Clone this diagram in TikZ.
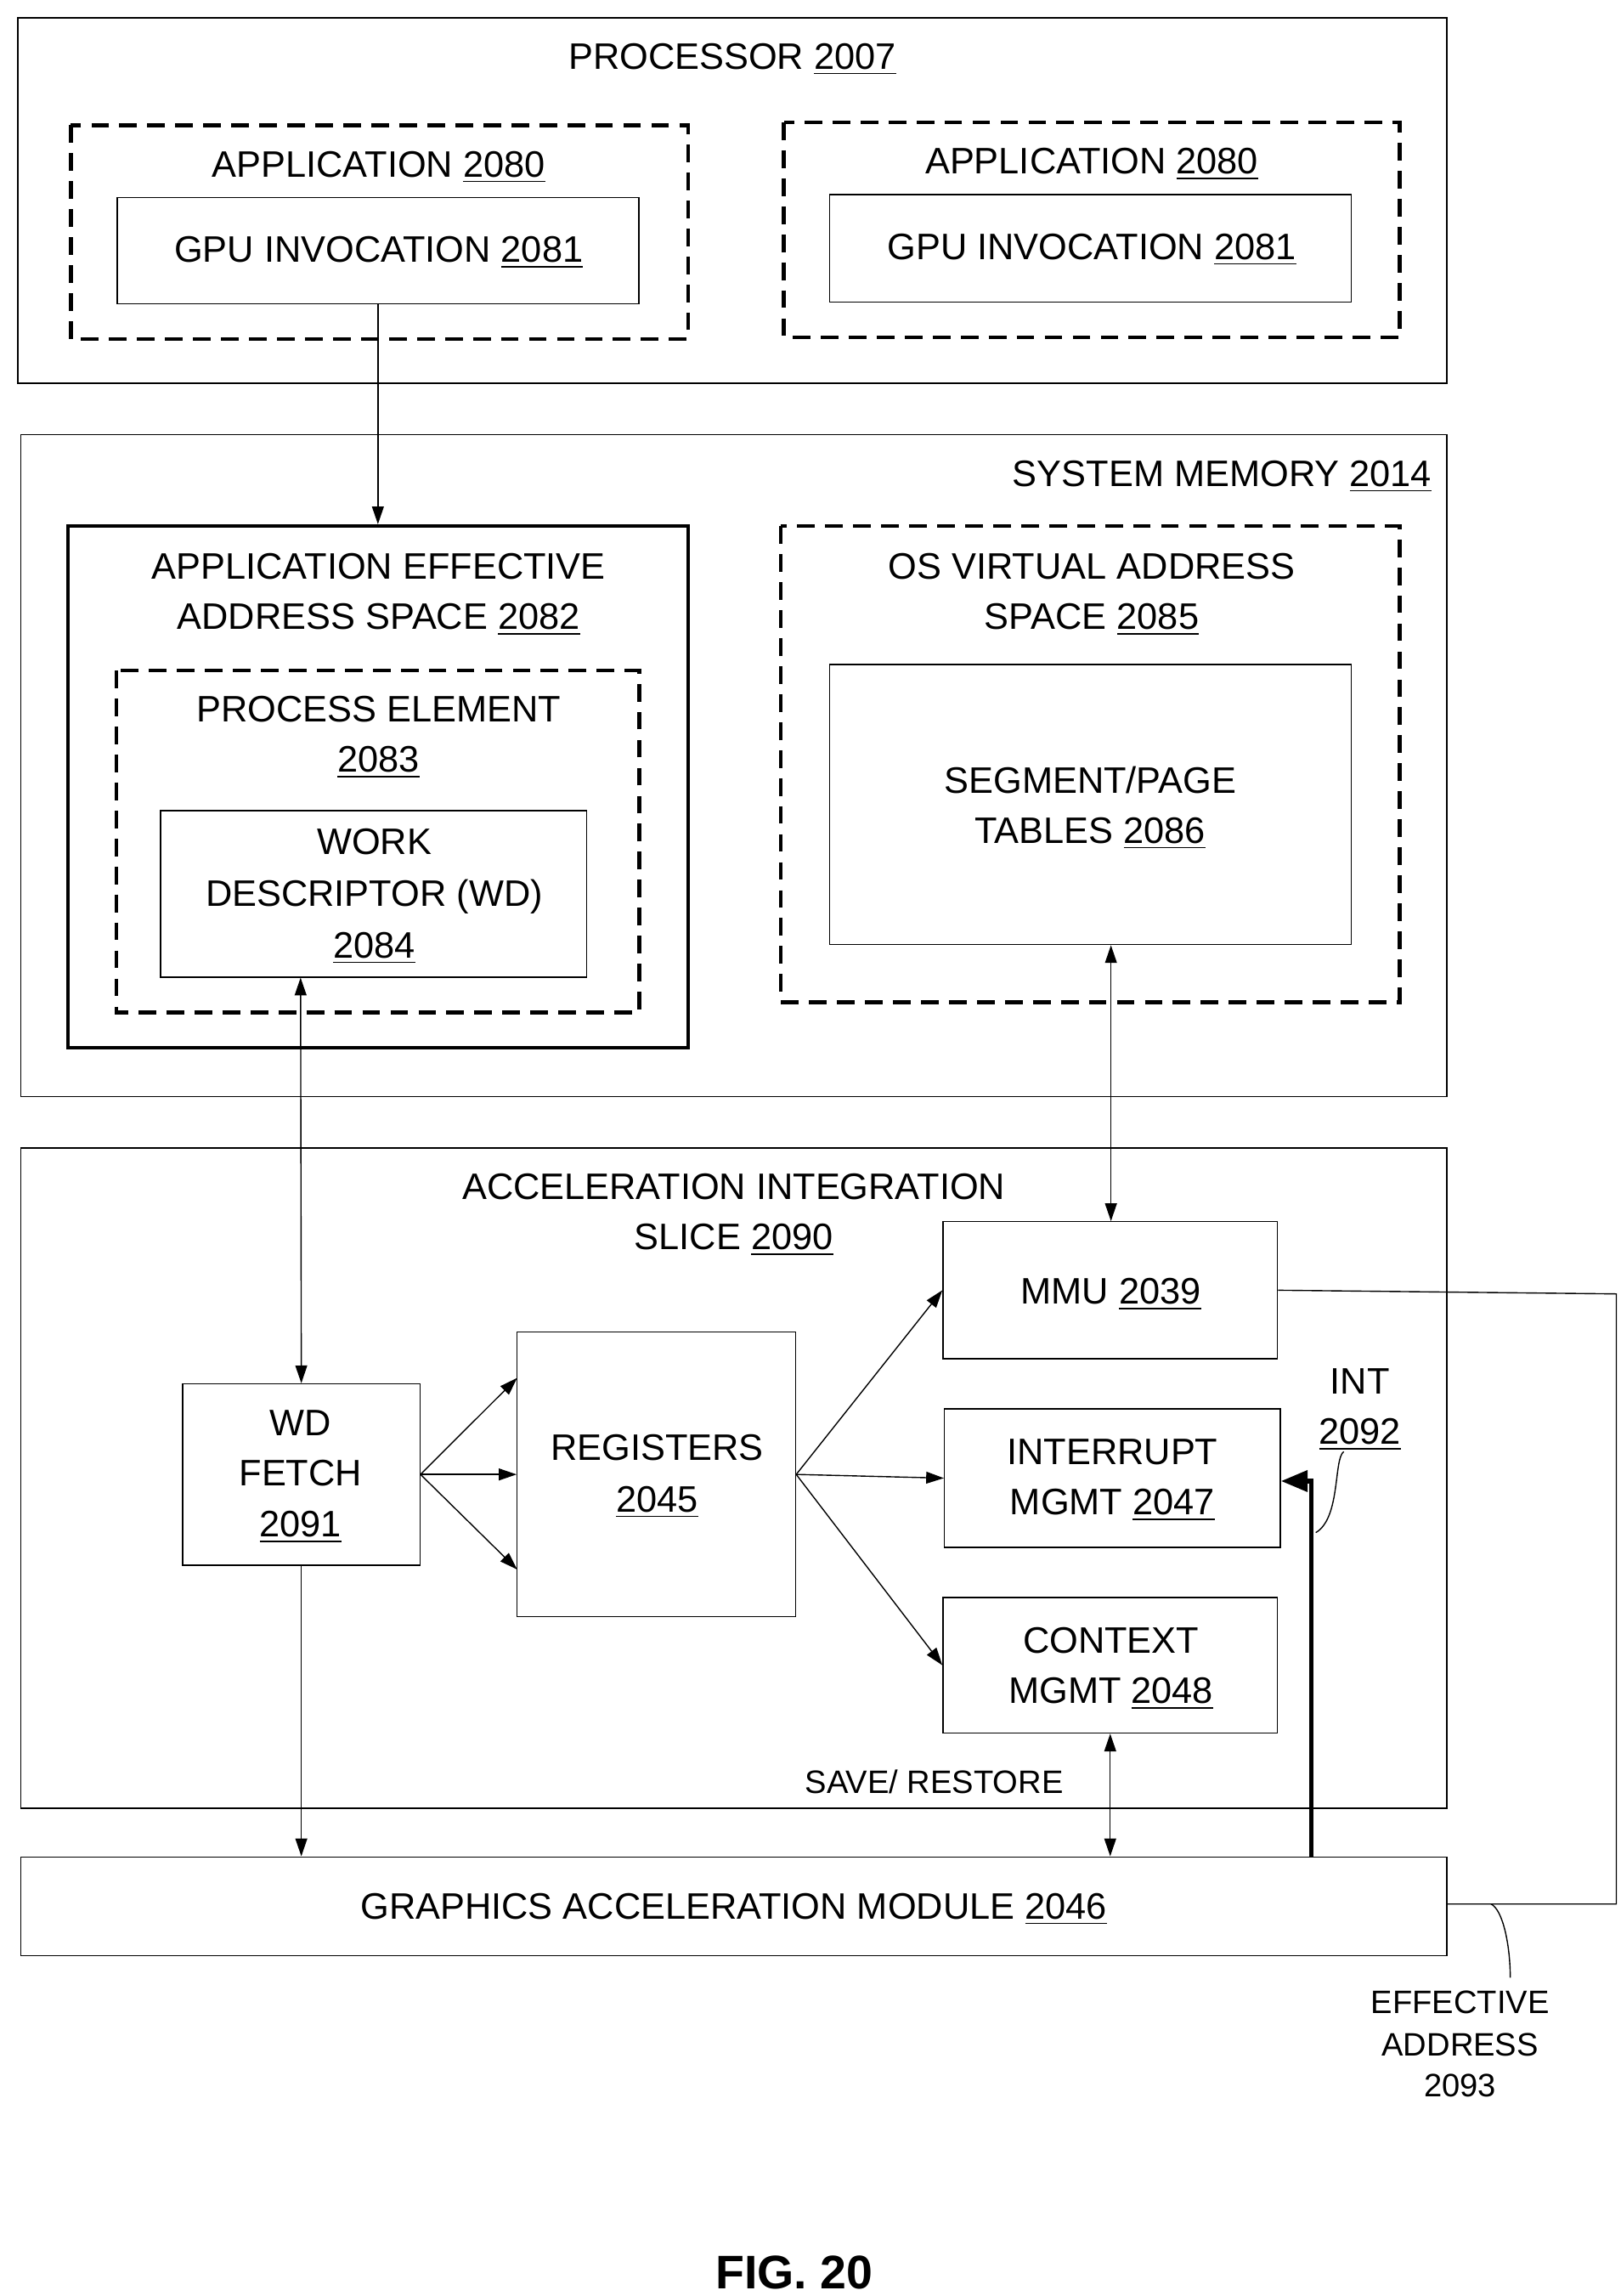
\documentclass[tikz,border=0pt]{standalone}
\usepackage{fontspec}
\setmainfont{Liberation Sans}
\usetikzlibrary{arrows.meta}
\newcommand{\ul}[1]{\underline{#1}}
\begin{document}
\fontsize{12.5pt}{15pt}\selectfont
\begin{tikzpicture}[x=0.5pt,y=-0.5pt,
 box/.style={draw,line width=0.4pt},
 dbox/.style={draw,line width=1.3pt,dash pattern=on 6pt off 3.5pt},
 tbox/.style={draw,line width=1.3pt},
 lbl/.style={inner sep=0pt,anchor=base,yshift=-4.5pt},
 sm/.style={lbl,font=\fontsize{11pt}{13pt}\selectfont},
 ar/.style={-{Triangle[length=6pt,width=4pt]},line width=0.4pt},
 dar/.style={{Triangle[length=6pt,width=4pt]}-{Triangle[length=6pt,width=4pt]},line width=0.4pt}]
\useasboundingbox (0,0) rectangle (1100,1558);
% processor
\draw[box] (12,12) rectangle (982,260);
\node[lbl] (tproc) at (497,38) {PROCESSOR \ul{2007}};
\draw[dbox] (48,85) rectangle (467,230);
\node[lbl] (tapp1) at (257,111) {APPLICATION \ul{2080}};
\node[box,minimum width=177pt,minimum height=36pt] (gpu1) at (256.5,170) {};
\node[lbl] (tgpu1) at (257,169) {GPU INVOCATION \ul{2081}};
\draw[dbox] (532,83) rectangle (950,229);
\node[lbl] (tapp2) at (741,109) {APPLICATION \ul{2080}};
\node[box,minimum width=177pt,minimum height=36.5pt] (gpu2) at (740,168.5) {};
\node[lbl] (tgpu2) at (741,167) {GPU INVOCATION \ul{2081}};
% system memory
\draw[box] (14,295) rectangle (982,744);
\node[lbl,anchor=base east] (tsys) at (972,321) {SYSTEM MEMORY \ul{2014}};
\node[tbox,minimum width=210.5pt,minimum height=177pt] (aeas) at (256.5,534) {};
\node[lbl] at (257,384) {APPLICATION EFFECTIVE};
\node[lbl] at (257,418) {ADDRESS SPACE \ul{2082}};
\draw[dbox] (79,455) rectangle (434,687);
\node[lbl] at (257,481) {PROCESS ELEMENT};
\node[lbl] at (257,515) {\ul{2083}};
\node[box,minimum width=144.5pt,minimum height=56.5pt] (wd) at (253.5,606.5) {};
\node[lbl] at (254,571) {WORK};
\node[lbl] at (254,606) {DESCRIPTOR (WD)};
\node[lbl] at (254,641) {\ul{2084}};
\draw[dbox] (530,357) rectangle (950,680);
\node[lbl] at (741,384) {OS VIRTUAL ADDRESS};
\node[lbl] at (741,418) {SPACE \ul{2085}};
\node[box,minimum width=177pt,minimum height=95pt] (seg) at (740,546) {};
\node[lbl] at (740,529) {SEGMENT/PAGE};
\node[lbl] at (740,563) {TABLES \ul{2086}};
% slice
\draw[box] (14,779) rectangle (982,1227);
\node[lbl] at (498,805) {ACCELERATION INTEGRATION};
\node[lbl] at (498,839) {SLICE \ul{2090}};
\node[box,minimum width=113.5pt,minimum height=46.5pt] (mmu) at (753.5,875.5) {};
\node[lbl] at (754,876) {MMU \ul{2039}};
\node[box,minimum width=80.5pt,minimum height=61.5pt] (fetch) at (204.5,1000.5) {};
\node[lbl] at (204,965) {WD};
\node[lbl] at (204,999) {FETCH};
\node[lbl] at (204,1034) {\ul{2091}};
\node[box,minimum width=94.5pt,minimum height=96.5pt] (reg) at (445.5,1000.5) {};
\node[lbl] at (446,982) {REGISTERS};
\node[lbl] at (446,1017) {\ul{2045}};
\node[box,minimum width=114pt,minimum height=47pt] (intm) at (755,1003) {};
\node[lbl] at (755,985) {INTERRUPT};
\node[lbl] at (755,1019) {MGMT \ul{2047}};
\node[box,minimum width=113.5pt,minimum height=46pt] (ctx) at (753.5,1130) {};
\node[lbl] at (754,1113) {CONTEXT};
\node[lbl] at (754,1147) {MGMT \ul{2048}};
\node[lbl] (int) at (923,937) {INT};
\node[lbl] (int2) at (923,971) {\ul{2092}};
\node[sm] at (634,1208) {SAVE/ RESTORE};
\node[box,minimum width=484pt,minimum height=33.5pt] (gam) at (498,1293.5) {};
\node[lbl] at (498,1293) {GRAPHICS ACCELERATION MODULE \ul{2046}};
\node[sm] at (991,1357) {EFFECTIVE};
\node[sm] at (991,1386) {ADDRESS};
\node[sm] at (991,1414) {2093};
\node[lbl,font=\fontsize{16pt}{18pt}\selectfont\bfseries] at (539,1544) {FIG. 20};
% connectors
\draw[ar] (gpu1.south) -- (aeas.north);
\draw[dar] (wd.south -| 204,0) -- (fetch.north);
\draw[dar] (seg.south -| 754,0) -- (mmu.north -| 754,0);
\draw[ar] (fetch.east) -- (351,935);
\draw[ar] (fetch.east) -- (reg.west);
\draw[ar] (fetch.east) -- (351,1065);
\draw[ar] (reg.east) -- (mmu.west);
\draw[ar] (reg.east) -- (intm.west);
\draw[ar] (reg.east) -- (ctx.west);
\draw[ar] (fetch.south) -- (gam.north -| fetch.south);
\draw[dar] (ctx.south) -- (gam.north -| ctx.south);
\draw[-{Triangle[length=9pt,width=7pt]},line width=1.6pt] (gam.north -| 890,0) -- (890,1005) -- (intm.east |- 0,1005);
\draw[line width=0.4pt] (mmu.east) -- (1097,878) -- (1097,1292) -- (gam.east |- 0,1292);
\draw[line width=0.4pt] (912,985) .. controls (905,990) and (910,1030) .. (893,1040);
\draw[line width=0.4pt] (1012,1292) .. controls (1020,1296) and (1025,1320) .. (1025,1342);
\end{tikzpicture}
\end{document}
